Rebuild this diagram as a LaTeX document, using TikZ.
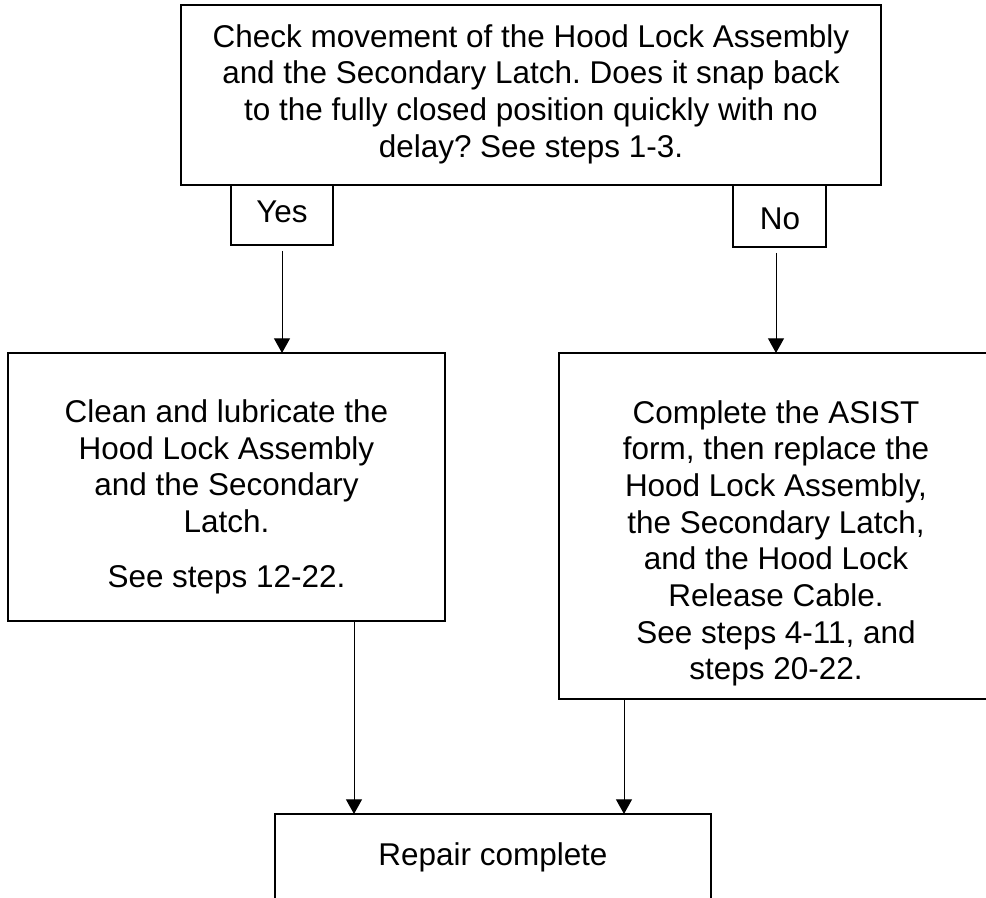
\documentclass[tikz,border=0pt]{standalone}
\usepackage{fontspec}
\setmainfont{Liberation Sans}
\usetikzlibrary{arrows.meta}
\frenchspacing
\begin{document}
\begin{tikzpicture}[x=0.75pt,y=-0.75pt,
  box/.style={draw=black,line width=0.9pt,inner sep=0pt,outer sep=0pt},
  txt/.style={inner sep=0pt,outer sep=0pt,align=center,font=\fontsize{23.6pt}{27.5pt}\selectfont},
  arr/.style={draw=black,line width=0.75pt,-{Triangle[width=12pt,length=11pt]}}]
\useasboundingbox (0,0) rectangle (986,898);
\clip (0,0) rectangle (986,898);
\fill[white] (0,0) rectangle (986,898);
% boxes
\node[box,minimum width=525pt,minimum height=135pt] (top) at (531,95) {};
\node[box,minimum width=76.5pt,minimum height=45pt] (yes) at (282,215) {};
\node[box,minimum width=69.75pt,minimum height=46.5pt] (no) at (779.5,216) {};
\node[box,minimum width=327.75pt,minimum height=201pt] (left) at (226.5,487) {};
\node[box,minimum width=325.5pt,minimum height=259.5pt] (right) at (776,526) {};
\node[box,minimum width=327pt,minimum height=68.25pt] (bottom) at (493,859.5) {};
% texts
\node[txt] (toptext) at (531,94) {Check movement of the Hood Lock Assembly\\and the Secondary Latch. Does it snap back\\to the fully closed position quickly with no\\delay? See steps 1-3.};
\node[txt,anchor=base] (yestext) at (282,223) {Yes};
\node[txt,anchor=base] (notext) at (780,230) {No};
\node[txt] (lefttext) at (226.5,497) {Clean and lubricate the\\Hood Lock Assembly\\and the Secondary\\Latch.\\[13.9pt]See steps 12-22.};
\node[txt] (righttext) at (776,543.3) {Complete the ASIST\\form, then replace the\\Hood Lock Assembly,\\the Secondary Latch,\\and the Hood Lock\\Release Cable.\\See steps 4-11, and\\steps 20-22.};
\node[txt,anchor=base] (bottomtext) at (493,865) {Repair complete};
% connectors
\coordinate (xl) at (354,0);
\coordinate (xr) at (624,0);
\draw[arr,shorten <=4.5pt] (yes.south) -- (yes.south |- left.north);
\draw[arr,shorten <=4.5pt] (right.north |- no.south) -- (right.north);
\draw[arr] (left.south -| xl) -- (bottom.north -| xl);
\draw[arr] (right.south -| xr) -- (bottom.north -| xr);
\end{tikzpicture}
\end{document}
